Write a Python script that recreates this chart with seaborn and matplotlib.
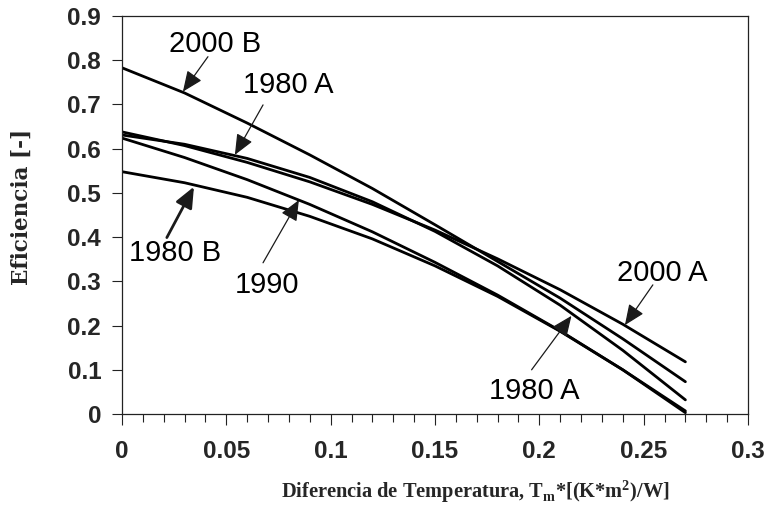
import numpy as np
import pandas as pd
import matplotlib
matplotlib.use("Agg")
import matplotlib.pyplot as plt
import seaborn as sns
from matplotlib.ticker import MultipleLocator

# Temperature difference grid (K*m2/W)
x_vals = [0.0, 0.03, 0.06, 0.09, 0.12, 0.15, 0.18, 0.21, 0.24, 0.27]

# Efficiency curves per collector
eff_2000B = [0.783, 0.726, 0.658, 0.586, 0.510, 0.428, 0.345, 0.262, 0.170, 0.073]
eff_2000A = [0.638, 0.607, 0.569, 0.525, 0.474, 0.416, 0.351, 0.281, 0.203, 0.118]
eff_1980A = [0.631, 0.610, 0.578, 0.535, 0.480, 0.413, 0.335, 0.246, 0.144, 0.032]
eff_1990 = [0.624, 0.580, 0.530, 0.474, 0.412, 0.343, 0.269, 0.188, 0.100, 0.007]
eff_1980B = [0.548, 0.523, 0.490, 0.447, 0.396, 0.335, 0.266, 0.187, 0.100, 0.003]

curve_names = ["2000 B", "2000 A", "1980 A", "1990", "1980 B"]
curve_values = [eff_2000B, eff_2000A, eff_1980A, eff_1990, eff_1980B]

x_ticks = [0, 0.05, 0.1, 0.15, 0.2, 0.25, 0.3]
x_tick_labels = ["0", "0.05", "0.1", "0.15", "0.2", "0.25", "0.3"]
y_ticks = [0, 0.1, 0.2, 0.3, 0.4, 0.5, 0.6, 0.7, 0.8, 0.9]
y_tick_labels = ["0", "0.1", "0.2", "0.3", "0.4", "0.5", "0.6", "0.7", "0.8", "0.9"]

# Annotations: label text, text position, arrow tip, arrow line width
label_texts = ["2000 B", "1980 A", "1980 B", "1990", "2000 A", "1980 A"]
label_pos = [(0.0446, 0.837), (0.0795, 0.744), (0.0254, 0.364),
             (0.0695, 0.292), (0.2588, 0.319), (0.1974, 0.052)]
arrow_start = [(0.0412, 0.808), (0.0676, 0.699), (0.0215, 0.399),
               (0.0676, 0.342), (0.2544, 0.292), (0.1963, 0.100)]
arrow_tip = [(0.0292, 0.729), (0.0541, 0.586), (0.0345, 0.514),
             (0.0848, 0.484), (0.2410, 0.201), (0.2154, 0.222)]
arrow_lw = [0.9, 0.9, 2.0, 0.9, 0.9, 0.9]

df = pd.concat(
    [pd.DataFrame({"x": x_vals, "eff": v, "curve": n}) for n, v in zip(curve_names, curve_values)],
    ignore_index=True,
)

sns.set_style("ticks")
plt.rcParams["font.family"] = ["Liberation Sans", "DejaVu Sans"]

fig = plt.figure(figsize=(7.69, 5.17), dpi=100)
ax = fig.add_axes([0.1586, 0.1992, 0.9727 - 0.1586, 0.969 - 0.1992])

sns.lineplot(data=df, x="x", y="eff", hue="curve", hue_order=curve_names,
             palette=["black"] * len(curve_names), legend=False, linewidth=2.0, ax=ax)

ax.set_xlim(0, 0.3)
ax.set_ylim(0, 0.9)
ax.set_xticks(x_ticks)
ax.set_xticklabels(x_tick_labels, fontsize=17.5, fontweight="bold")
ax.set_yticks(y_ticks)
ax.set_yticklabels(y_tick_labels, fontsize=17.5, fontweight="bold")
ax.xaxis.set_minor_locator(MultipleLocator(0.01))
ax.tick_params(axis="x", which="major", direction="out", length=8, width=0.8, pad=11, color="#222222")
ax.tick_params(axis="x", which="minor", direction="out", length=5.5, width=0.8, color="#222222")
ax.tick_params(axis="y", which="major", direction="out", length=7, width=0.8, pad=8, color="#222222")
for s in ax.spines.values():
    s.set_linewidth(0.9)
    s.set_color("#222222")

ax.set_xlabel("")
ax.set_ylabel("")
fig.text(0.6177, 0.0484,
         r"Diferencia de Temperatura, T$_\mathregular{m}$*[(K*m$^\mathregular{2}$)/W]",
         ha="center", va="center", fontsize=14.7, fontweight="bold", family="Liberation Serif")
fig.text(0.0286, 0.5996, "Eficiencia [-]", rotation=90, ha="center", va="center",
         fontsize=15.5, fontweight="bold", family="DejaVu Serif")

for txt, pos, st, tip, lw in zip(label_texts, label_pos, arrow_start, arrow_tip, arrow_lw):
    ax.text(pos[0], pos[1], txt, ha="center", va="center", fontsize=21, color="black")
    ax.annotate("", xy=tip, xytext=st,
                arrowprops=dict(arrowstyle="-|>,head_length=0.7,head_width=0.3",
                                lw=lw, color="#1a1a1a", shrinkA=0, shrinkB=0,
                                mutation_scale=18))

fig.savefig("out.png", dpi=100)
